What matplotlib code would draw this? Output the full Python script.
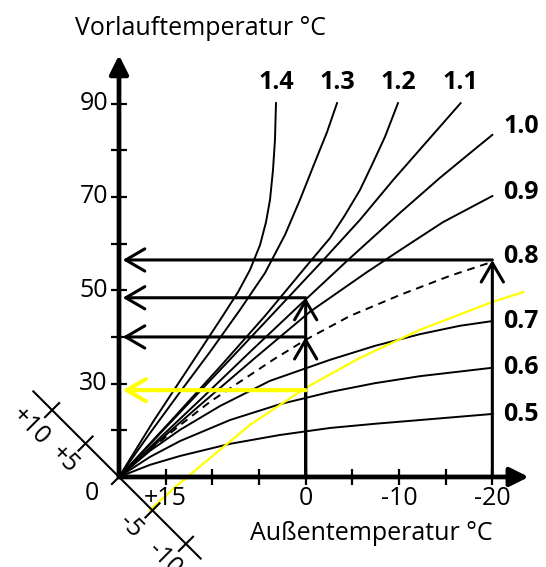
import matplotlib
matplotlib.use("Agg")
import matplotlib.pyplot as plt

plt.rcParams["font.family"] = ["Open Sans", "DejaVu Sans"]

# heating curves: outside temperature (°C) -> flow temperature (°C)
t_14 = [20, 16.36, 12.7, 9.18, 7.25, 5.96, 4.89, 4.25, 3.82, 3.5, 3.29, 3.18]
f_14 = [10, 21.8, 32.9, 43.6, 49.6, 54.4, 59.7, 64.6, 69.4, 75.8, 82.2, 90.1]
t_13 = [20, 16.68, 13.46, 10.25, 7.04, 4.36, 2.21, 0.61, -1.0, -2.29, -3.36]
f_13 = [10, 19.4, 28.2, 36.8, 45.8, 53.7, 61.9, 69.4, 77.5, 83.9, 90.1]
t_12 = [20, 14.54, 9.18, 4.36, -0.46, -2.61, -4.21, -5.82, -7.11, -8.5, -9.89]
f_12 = [10, 21.8, 33.6, 44.5, 56.1, 61.2, 66.1, 71.5, 76.9, 82.9, 90.1]
t_11 = [20, 9.18, 3.82, -1.9, -5.82, -9.36, -16.6]
f_11 = [10, 32.9, 44.3, 56.5, 65.1, 73.6, 90.1]
t_10 = [20, 15.61, 11.32, 5.96, 0.07, -4.54, -10.11, -14.39, -17.61, -20]
f_10 = [10, 18.4, 26.5, 36.8, 47.9, 56.5, 66.6, 74.1, 79.4, 83.3]
t_09 = [20, 15.61, 11.32, 5.43, -0.46, -6.57, -10.11, -14.71, -20]
f_09 = [10, 17.9, 25.4, 35.5, 45.4, 53.9, 58.6, 64.6, 70.2]
t_08 = [20, 16.68, 13.46, 10.25, 7.04, 3.5, 0, -4.75, -10.11, -15.46, -20]
f_08 = [10, 15.8, 21.1, 26.1, 30.4, 35.1, 39.4, 44.5, 49.0, 53.1, 56.1]
t_07 = [20, 16.68, 13.46, 9.18, 3.82, -2.61, -7.43, -12.25, -16.54, -20]
f_07 = [10, 15.6, 20.1, 25.2, 30.6, 35.1, 38.1, 40.6, 42.4, 43.4]
t_06 = [20, 16.68, 13.46, 8.11, 2.75, -2.61, -7.43, -12.25, -20]
f_06 = [10, 14.3, 17.7, 22.2, 25.6, 28.2, 30.1, 31.6, 33.4]
t_05 = [20, 16.68, 13.46, 8.11, 2.75, -2.61, -7.43, -12.25, -20]
f_05 = [10, 12.6, 14.5, 17.1, 19.0, 20.5, 21.4, 22.2, 23.5]
t_yellow = [16.7, 14.0, 11.3, 6.0, 0, -5.8, -12.2, -20, -23.3]
f_yellow = [2.9, 7.8, 12.3, 21.1, 29.1, 35.5, 41.5, 47.5, 49.6]

top_names = ["1.4", "1.3", "1.2", "1.1"]
side_names = ["1.0", "0.9", "0.8", "0.7", "0.6", "0.5"]

# reading lines (outside temp, flow temp)
read_t = [-20, 0, 0]
read_f = [56.5, 48.4, 40.0]
yellow_read = (0, 28.6)

x_ticks = [15, 10, 5, 0, -5, -10, -15, -20]
x_labels = {15: "+15", 0: "0", -10: "-10", -20: "-20"}
y_ticks = [20, 30, 40, 50, 60, 70, 80, 90]
y_labels = [90, 70, 50, 30]
room_ticks = [10, 5, 0, -5, -10]
room_labels = ["+10", "+5", "0", "-5", "-10"]

T0, F0 = 20, 10          # origin of the diagram
ROOM_DT, ROOM_DF = 0.717, 1.433   # one room-°C along the diagonal


def room_pt(r):
    return T0 + ROOM_DT * r, F0 + ROOM_DF * r


def arrow(ax, start, end, color="black", lw=2.2):
    ax.annotate("", xy=end, xytext=start,
                arrowprops=dict(arrowstyle="->,head_length=1.37,head_width=0.8",
                                color=color, lw=lw, shrinkA=0, shrinkB=0,
                                mutation_scale=10))


fig = plt.figure(figsize=(5.46, 5.67), dpi=100)
ax = fig.add_axes([0, 0, 1, 1])
ax.set_xlim(32.75, -25.75)
ax.set_ylim(-9.29, 112.2)
ax.axis("off")

# curves
curves = [(t_14, f_14), (t_13, f_13), (t_12, f_12), (t_11, f_11),
          (t_10, f_10), (t_09, f_09), (t_08, f_08), (t_07, f_07),
          (t_06, f_06), (t_05, f_05)]
for i, (t, f) in enumerate(curves):
    ls = (0, (4, 3)) if i == 6 else "-"
    ax.plot(t, f, color="black", lw=1.4, ls=ls, solid_joinstyle="round")
ax.plot(t_yellow, f_yellow, color="#ffff00", lw=1.6, solid_joinstyle="round")

for name, (t, f) in zip(top_names, curves[:4]):
    ax.annotate(name, (t[-1], f[-1]), xytext=(0, 15), textcoords="offset points",
                ha="center", va="center", fontsize=18, fontweight="bold")
side_dy = [5.8, 2.2, 3.6, 0, 0, -0.7]
for name, (t, f), dy in zip(side_names, curves[4:], side_dy):
    ax.annotate(name, (t[-1], f[-1]), xytext=(8, dy), textcoords="offset points",
                ha="left", va="center", fontsize=18, fontweight="bold")

# reading arrows
for t, f in zip(read_t, read_f):
    arrow(ax, (t, f), (T0 - 0.4, f))
arrow(ax, (0, F0), (0, read_f[1]))
arrow(ax, (0, F0), (0, read_f[2]))
arrow(ax, (-20, F0), (-20, read_f[0]))
arrow(ax, yellow_read, (T0 - 0.4, yellow_read[1]), color="#ffff00", lw=3)

# main axes with filled arrow heads
for end in [(T0, 100.4), (-23.9, F0)]:
    ax.annotate("", xy=end, xytext=(T0, F0),
                arrowprops=dict(arrowstyle="-|>,head_length=0.8,head_width=0.4",
                                color="black", lw=3.4, shrinkA=0, shrinkB=0,
                                mutation_scale=14))
ax.plot([T0] * len(y_ticks), y_ticks, ls="none", marker="_", ms=12, mew=1.6, color="black")
ax.plot(x_ticks, [F0] * len(x_ticks), ls="none", marker="|", ms=12, mew=1.6, color="black")
for v in y_labels:
    ax.annotate(str(v), (T0, v), xytext=(-8, 0), textcoords="offset points",
                ha="right", va="center", fontsize=18)
for v, lab in x_labels.items():
    ax.annotate(lab, (v, F0), xytext=(0, -15.8), textcoords="offset points",
                ha="center", va="center", fontsize=18)

# room temperature diagonal
p1, p2 = room_pt(12.8), room_pt(-12.2)
ax.plot([p1[0], p2[0]], [p1[1], p2[1]], color="black", lw=1.5)
for r, lab in zip(room_ticks, room_labels):
    t, f = room_pt(r)
    ax.plot([t + 0.758, t - 0.758], [f - 1.515, f + 1.515], color="black", lw=1.5)
    rot = 0 if r == 0 else -45
    off = (-19.4, -12.2) if r == 0 else (-15.5, -11.5)
    ax.annotate(lab, (t, f), xytext=off, textcoords="offset points",
                ha="center", va="center", fontsize=18, rotation=rot)

fig.text(75 / 546, 1 - 35 / 567, "Vorlauftemperatur °C", fontsize=18,
         ha="left", va="baseline")
fig.text(493 / 546, 1 - 540 / 567, "Außentemperatur °C", fontsize=18,
         ha="right", va="baseline")

fig.savefig("out.png", dpi=100)
